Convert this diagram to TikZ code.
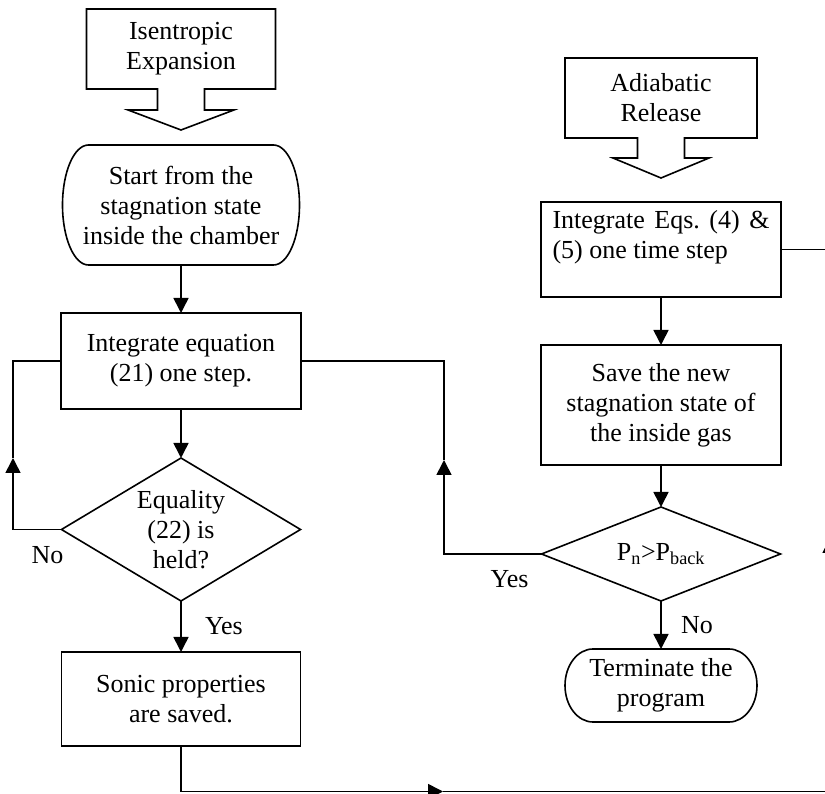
\documentclass[tikz,border=0pt]{standalone}
\usepackage{fontspec}
\setmainfont{Liberation Serif}
\usetikzlibrary{arrows.meta, positioning, shapes.geometric, shapes.arrows}
\frenchspacing

\begin{document}
\begin{tikzpicture}[x=1pt, y=1pt, >={Triangle[length=15pt, width=15pt]}, line width=1.6pt, font=\fontsize{26}{30}\selectfont, every node/.style={inner sep=0pt, outer sep=0pt}]
% Define styles for blocks, decisions, terminals and headers
\tikzstyle{block} = [draw, rectangle, align=center, minimum width=240pt]
\tikzstyle{decision} = [draw, diamond, align=center, minimum width=239pt]
\tikzstyle{terminal} = [rectangle, align=center]
\tikzstyle{header} = [draw, arrow box, align=center, arrow box north arrow=0pt, arrow box east arrow=0pt, arrow box west arrow=0pt, arrow box head indent=0pt, arrow box shaft width=47pt, minimum height=80pt]

\useasboundingbox (0,0) rectangle (825,793);
\clip (0,0) rectangle (825,793);

% Left column: isentropic expansion
\node [header, minimum width=189pt, arrow box head extend=29.5pt, arrow box tip angle=138.6, arrow box south arrow=41pt] (iso) at (181,744) {Isentropic\\Expansion};
\node [terminal, below of=iso, node distance=156pt, minimum width=237pt, minimum height=120pt] (start) {Start from the\\stagnation state\\inside the chamber};
\node [block, below of=start, node distance=156pt, minimum height=96pt] (integ) {Integrate equation\\(21) one step.};
\node [decision, below of=integ, node distance=168.5pt, minimum height=143pt, aspect=1.67] (eqcheck) {Equality\\(22) is\\held?};
\node [block, below of=eqcheck, node distance=169.5pt, minimum width=239pt, minimum height=94pt] (sonic) {Sonic properties\\are saved.};

% Right column: adiabatic release
\node [header, minimum width=192pt, arrow box head extend=24.5pt, arrow box tip angle=134.8, arrow box south arrow=40pt] (adiab) at (661,695) {Adiabatic\\Release};
\node [block, below of=adiab, node distance=151.5pt, minimum height=95pt, text width=217pt, align=justify] (integeqs) {Integrate Eqs. (4) \& (5) one time step\newline\mbox{}};
\node [block, below of=integeqs, node distance=155.5pt, minimum height=120pt] (save) {Save the new\\stagnation state of\\the inside gas};
\node [decision, below of=save, node distance=149pt, minimum height=94pt, aspect=2.54] (pcheck) {P\textsubscript{n}>P\textsubscript{back}};
\node [terminal, below of=pcheck, node distance=131.5pt, minimum width=192pt, minimum height=73pt] (term) {Terminate the\\program};

% Terminal outlines with elliptic ends
\draw ([xshift=26pt]start.north west) -- ([xshift=-26pt]start.north east) arc[start angle=90, end angle=-90, x radius=26pt, y radius=60pt] -- ([xshift=26pt]start.south west) arc[start angle=270, end angle=90, x radius=26pt, y radius=60pt] -- cycle;
\draw ([xshift=28pt]term.north west) -- ([xshift=-28pt]term.north east) arc[start angle=90, end angle=-90, x radius=28pt, y radius=36.5pt] -- ([xshift=28pt]term.south west) arc[start angle=270, end angle=90, x radius=28pt, y radius=36.5pt] -- cycle;

% Draw edges
\draw[->] (start) -- (integ);
\draw[->] (integ) -- (eqcheck);
\draw[->] (eqcheck) -- node[right=24pt] {Yes} (sonic);
\draw[->] (integeqs) -- (save);
\draw[->] (save) -- (pcheck);
\draw[->] (pcheck) -- node[right=20pt] {No} (term);

% Feedback loop when equality fails
\coordinate (nofb) at (13,335);
\draw[->] (eqcheck.west) -| (nofb);
\draw (nofb) |- (integ.west);
\draw (eqcheck.west) ++(-14,-26) node {No};

% Feedback loop while pressure is above back pressure
\coordinate (yesfb) at (444,333);
\draw[->] (pcheck.west) -| (yesfb);
\draw (yesfb) |- (integ.east);
\draw (pcheck.west) ++(-32,-25) node {Yes};

% Transfer from sonic state to adiabatic release
\coordinate (btm) at (443,1.5);
\coordinate (rcorner) at (830,1.5);
\coordinate (upfb) at (830,255);
\draw[->] (sonic.south) |- (btm);
\draw[->] (btm) -- (rcorner) -- (upfb);
\draw (upfb) |- (integeqs.east);
\end{tikzpicture}
\end{document}
